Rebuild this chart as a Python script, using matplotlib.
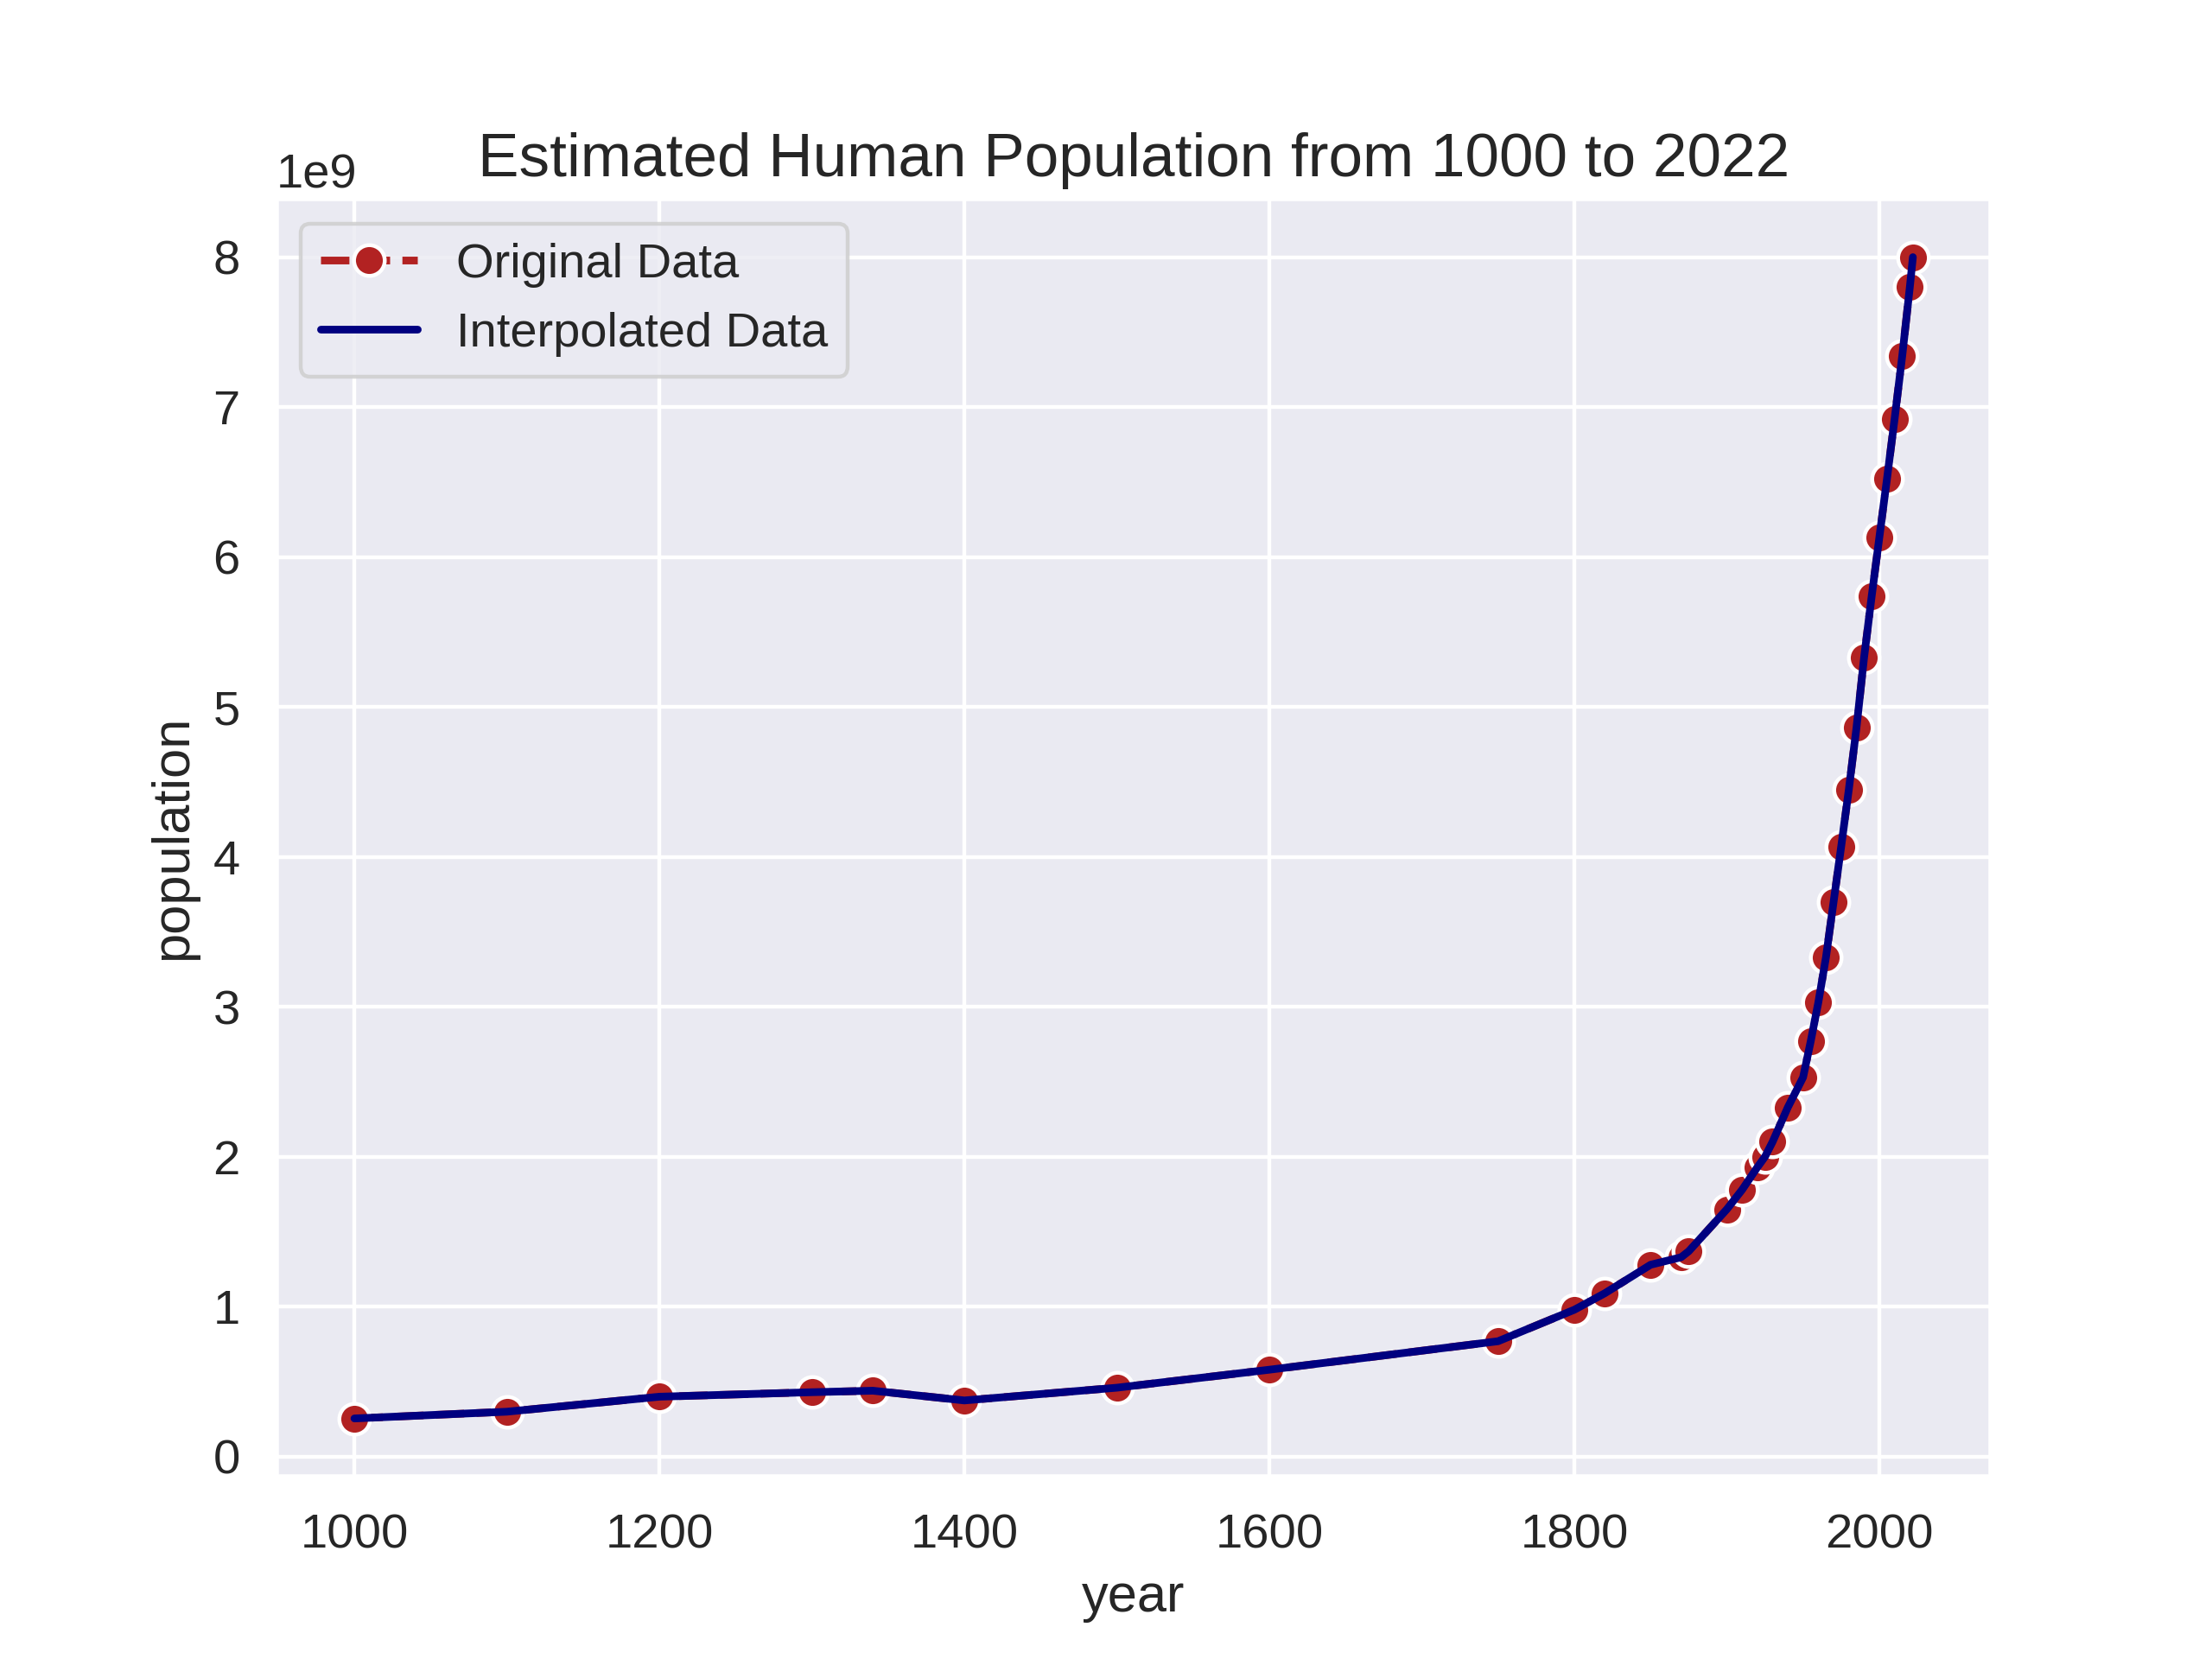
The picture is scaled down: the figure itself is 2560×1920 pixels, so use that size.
import numpy as np
import matplotlib
matplotlib.use("Agg")
import matplotlib.pyplot as plt
import seaborn as sns

years = [1000, 1100, 1200, 1300, 1340, 1400, 1500, 1600, 1750, 1800, 1820, 1850,
         1870, 1875, 1900, 1910, 1920, 1925, 1930, 1940, 1950, 1955, 1960, 1965,
         1970, 1975, 1980, 1985, 1990, 1995, 2000, 2005, 2010, 2015, 2020, 2022]
population = [0.255, 0.30, 0.40, 0.43, 0.44, 0.375, 0.46, 0.58, 0.77, 0.98, 1.09, 1.28,
              1.33, 1.37, 1.65, 1.78, 1.93, 2.00, 2.10, 2.33, 2.53, 2.77, 3.03, 3.33,
              3.70, 4.07, 4.45, 4.86, 5.33, 5.74, 6.13, 6.52, 6.92, 7.34, 7.80, 8.00]
population = np.array(population) * 1e9

sns.set_theme(style="darkgrid", font_scale=1.15)
plt.rcParams['font.family'] = ['Liberation Sans', 'DejaVu Sans']

fig, ax = plt.subplots(figsize=(8, 6))
ax.plot(years, population, "o--", color="firebrick", markeredgecolor="white",
        markersize=8, linewidth=2, label="Original Data")
ax.plot(years, population, "-", color="navy", linewidth=2, label="Interpolated Data")
ax.set_title("Estimated Human Population from 1000 to 2022", fontsize=16)
ax.set_xlabel("year")
ax.set_ylabel("population")
ax.legend(loc="upper left")
fig.savefig("out.png", dpi=320)
